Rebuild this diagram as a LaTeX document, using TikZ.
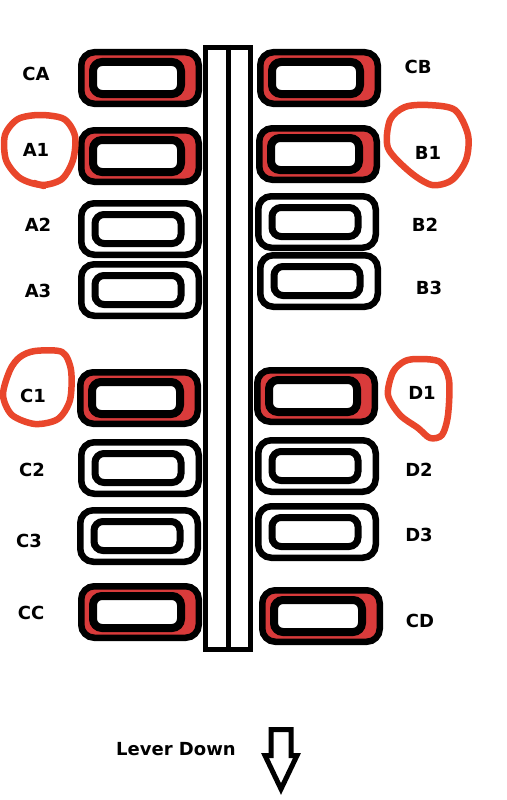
\documentclass[tikz,border=0pt]{standalone}
\usepackage{fontspec}
\setmainfont{DejaVu Sans}
\definecolor{keyred}{HTML}{D93B3B}
\definecolor{ink}{HTML}{E9462B}
\tikzset{
  keyout/.style={draw=black,line width=6.5pt,rounded corners=13pt,minimum width=117.5pt,minimum height=51.5pt,inner sep=0pt,fill=white},
  keyhot/.style={keyout,fill=keyred},
  keyin/.style={draw=black,line width=8pt,rounded corners=9pt,minimum width=88pt,minimum height=32pt,inner sep=0pt,fill=white},
  keyinp/.style={keyin,line width=7pt,minimum width=86pt,minimum height=29pt},
  tag/.style={font=\fontsize{18}{21}\selectfont\bfseries,inner sep=0pt},
  ring/.style={draw=ink,line width=6.5pt,line cap=round,line join=round},
  bar/.style={draw=black,line width=5pt,fill=white,minimum width=45pt,minimum height=602pt,inner sep=0pt},
}

\begin{document}
\begin{tikzpicture}[x=1pt,y=-1pt]
  \useasboundingbox[fill=white] (0,0) rectangle (506,800);
  % left column
  \node[keyhot] (ca) at (140,78) {};
  \node[keyin] at ([xshift=-3pt]ca.center) {};
  \node[keyhot] (a1) at (140,156) {};
  \node[keyin] at ([xshift=-3pt]a1.center) {};
  \node[keyout] (a2) at (140,229) {};
  \node[keyinp] at ([xshift=-2pt]a2.center) {};
  \node[keyout] (a3) at (140,290) {};
  \node[keyinp] at ([xshift=-2pt]a3.center) {};
  \node[keyhot] (c1) at (139,398) {};
  \node[keyin] at ([xshift=-3pt]c1.center) {};
  \node[keyout] (c2) at (140,468) {};
  \node[keyinp] at ([xshift=-2pt]c2.center) {};
  \node[keyout] (c3) at (139,536) {};
  \node[keyinp] at ([xshift=-2pt]c3.center) {};
  \node[keyhot] (cc) at (140,612) {};
  \node[keyin] at ([xshift=-3pt]cc.center) {};
  % right column
  \node[keyhot] (cb) at (319,78) {};
  \node[keyin] at ([xshift=-3pt]cb.center) {};
  \node[keyhot] (b1) at (318,154) {};
  \node[keyin] at ([xshift=-3pt]b1.center) {};
  \node[keyout] (b2) at (317,222) {};
  \node[keyinp] at ([xshift=-2pt]b2.center) {};
  \node[keyout] (b3) at (319,281) {};
  \node[keyinp] at ([xshift=-2pt]b3.center) {};
  \node[keyhot] (d1) at (316,396) {};
  \node[keyin] at ([xshift=-3pt]d1.center) {};
  \node[keyout] (d2) at (317,466) {};
  \node[keyinp] at ([xshift=-2pt]d2.center) {};
  \node[keyout] (d3) at (317,532) {};
  \node[keyinp] at ([xshift=-2pt]d3.center) {};
  \node[keyhot] (cd) at (321,616) {};
  \node[keyin] at ([xshift=-3pt]cd.center) {};
  % lever bar
  \node[bar] (lever) at (228,348.5) {};
  \draw[line width=5pt] (lever.north) -- (lever.south);
  % labels
  \node[tag] (tca) at (36,74) {CA};
  \node[tag] (ta1) at (36,150) {A1};
  \node[tag] (ta2) at (38,225) {A2};
  \node[tag] (ta3) at (38,291) {A3};
  \node[tag] (tc1) at (33,396) {C1};
  \node[tag] (tc2) at (32,470) {C2};
  \node[tag] (tc3) at (29,541) {C3};
  \node[tag] (tcc) at (31,613) {CC};
  \node[tag] (tcb) at (418,67) {CB};
  \node[tag] (tb1) at (428,153) {B1};
  \node[tag] (tb2) at (425,225) {B2};
  \node[tag] (tb3) at (429,288) {B3};
  \node[tag] (td1) at (422,393) {D1};
  \node[tag] (td2) at (419,470) {D2};
  \node[tag] (td3) at (419,535) {D3};
  \node[tag] (tcd) at (420,621) {CD};
  % red rings
  \draw[ring] plot[smooth cycle] coordinates {(40,115) (64,119) (75,136) (73,160) (62,179) (42,185) (20,178) (6,160) (5,135) (18,119)};
  \draw[ring] (34,183) -- (44,186);
  \draw[ring] plot[smooth cycle] coordinates {(428,105) (455,110) (468,135) (466,160) (452,180) (432,185) (410,172) (388,148) (390,120) (405,107)};
  \draw[ring] plot[smooth cycle] coordinates {(35,351) (62,352) (71,370) (70,400) (58,419) (35,424) (12,415) (3,395) (10,370) (20,357)};
  \draw[ring] plot[smooth cycle] coordinates {(420,359) (440,362) (449,380) (448,415) (442,435) (430,438) (418,428) (400,415) (388,395) (393,372) (405,361)};
  % lever direction
  \node[tag] (tdown) at (176,749) {Lever Down};
  \draw[line width=5pt,fill=white] (271,729.5) -- (291,729.5) -- (291,755.5) -- (297,755.5) -- (281,789) -- (265,755.5) -- (271,755.5) -- cycle;
\end{tikzpicture}
\end{document}
